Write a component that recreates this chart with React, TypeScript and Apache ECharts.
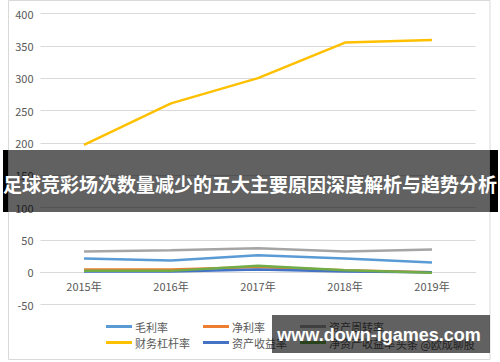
import React, { useEffect, useRef } from "react";
import * as echarts from "echarts";

const categories = ["2015年", "2016年", "2017年", "2018年", "2019年"];
const grossMargin = [21, 18, 26, 21, 15];
const netMargin = [4, 4, 8, 3, 0];
const assetTurnover = [32, 34, 37, 32, 35];
const leverage = [197, 261, 300, 355, 359];
const roa = [1, 1, 4, 1, 0];
const roe = [2, 2, 10, 3, -1];

const seriesNames = ["毛利率", "净利率", "资产周转率", "财务杠杆率", "资产收益率", "净资产收益率"];
const seriesValues = [grossMargin, netMargin, assetTurnover, leverage, roa, roe];
const colors = ["#5B9BD5", "#ED7D31", "#A5A5A5", "#FFC000", "#4472C4", "#70AD47"];

const yMin = -50;
const yMax = 400;
const yStep = 50;

const titleText = "足球竞彩场次数量减少的五大主要原因深度解析与趋势分析";
const watermarkText = "www.down-igames.com";
const sourceText = "头条 @欧成聊股";

const FONT = "'Noto Sans CJK SC', 'Noto Sans', sans-serif";

export default function App() {
  const ref = useRef<HTMLDivElement>(null);
  useEffect(() => {
    if (!ref.current) return;
    const chart = echarts.init(ref.current, null, { renderer: "svg" });
    const gridTop = 13.5;
    const gridBottom = 57.5;
    const plotH = 362 - gridTop - gridBottom;
    // distance from bottom of plot to the zero line, so the category axis sits at 0
    const zeroOffset = (plotH * (0 - yMin)) / (yMax - yMin);
    const legendPos = [
      [106, 321],
      [203, 321],
      [300, 321],
      [106, 337],
      [203, 337],
      [300, 337],
    ];
    const legends = seriesNames.map((n, i) => ({
      data: [{ name: n, icon: "rect" }],
      left: legendPos[i][0],
      top: legendPos[i][1],
      padding: 0,
      itemWidth: 26,
      itemHeight: 3,
      orient: "horizontal",
      textStyle: { color: "#595959", fontSize: 11, fontFamily: FONT, padding: [0, 0, 0, -2] },
    }));
    chart.setOption({
      animation: false,
      color: colors,
      grid: { left: 40.5, right: 24.5, top: gridTop, bottom: gridBottom, containLabel: false },
      legend: legends,
      xAxis: {
        type: "category",
        data: categories,
        boundaryGap: true,
        offset: -zeroOffset,
        axisLine: { show: true, onZero: false, lineStyle: { color: "#d9d9d9", width: 1 } },
        axisTick: { show: false },
        axisLabel: { color: "#595959", fontSize: 11, fontFamily: FONT, margin: 8 },
        splitLine: { show: false },
      },
      yAxis: {
        type: "value",
        min: yMin,
        max: yMax,
        interval: yStep,
        axisLine: { show: false },
        axisTick: { show: false },
        axisLabel: { color: "#595959", fontSize: 11, fontFamily: FONT, margin: 7 },
        splitLine: { lineStyle: { color: "#d9d9d9", width: 1 } },
      },
      series: seriesNames.map((n, i) => ({
        name: n,
        type: "line",
        data: seriesValues[i],
        symbol: "none",
        lineStyle: { width: 2.5, color: colors[i] },
        itemStyle: { color: colors[i] },
      })),
      graphic: [
        {
          type: "rect",
          z: 0,
          silent: true,
          shape: { x: 8.5, y: 0.5, width: 481.5, height: 359 },
          style: { fill: "none", stroke: "#d9d9d9", lineWidth: 1 },
        },
        {
          type: "text",
          z: 50,
          left: 396,
          top: 338,
          style: { text: sourceText, fill: "#595959", font: `11px ${FONT}` },
        },
        {
          type: "rect",
          z: 100,
          shape: { x: 3, y: 150, width: 5, height: 62 },
          style: { fill: "#000" },
        },
        {
          type: "rect",
          z: 100,
          shape: { x: 490, y: 150, width: 8, height: 62 },
          style: { fill: "#000" },
        },
        {
          type: "rect",
          z: 100,
          shape: { x: 8, y: 150, width: 482, height: 62 },
          style: { fill: "rgba(0,0,0,0.62)" },
        },
        {
          type: "text",
          z: 101,
          x: 250,
          y: 183,
          style: {
            text: titleText,
            fill: "#fff",
            font: `bold 19px ${FONT}`,
            align: "center",
            verticalAlign: "middle",
          },
        },
        {
          type: "rect",
          z: 100,
          shape: { x: 272, y: 315, width: 218, height: 38 },
          style: { fill: "rgba(0,0,0,0.62)" },
        },
        {
          type: "text",
          z: 101,
          x: 379,
          y: 335,
          style: {
            text: watermarkText,
            fill: "#fff",
            font: `bold 18px 'Liberation Sans', Arial, sans-serif`,
            align: "center",
            verticalAlign: "middle",
          },
        },
      ],
    });
    return () => chart.dispose();
  }, []);
  return (
    <div
      ref={ref}
      style={{ position: "fixed", left: 0, top: 0, width: 500, height: 362, background: "#fff" }}
    />
  );
}
